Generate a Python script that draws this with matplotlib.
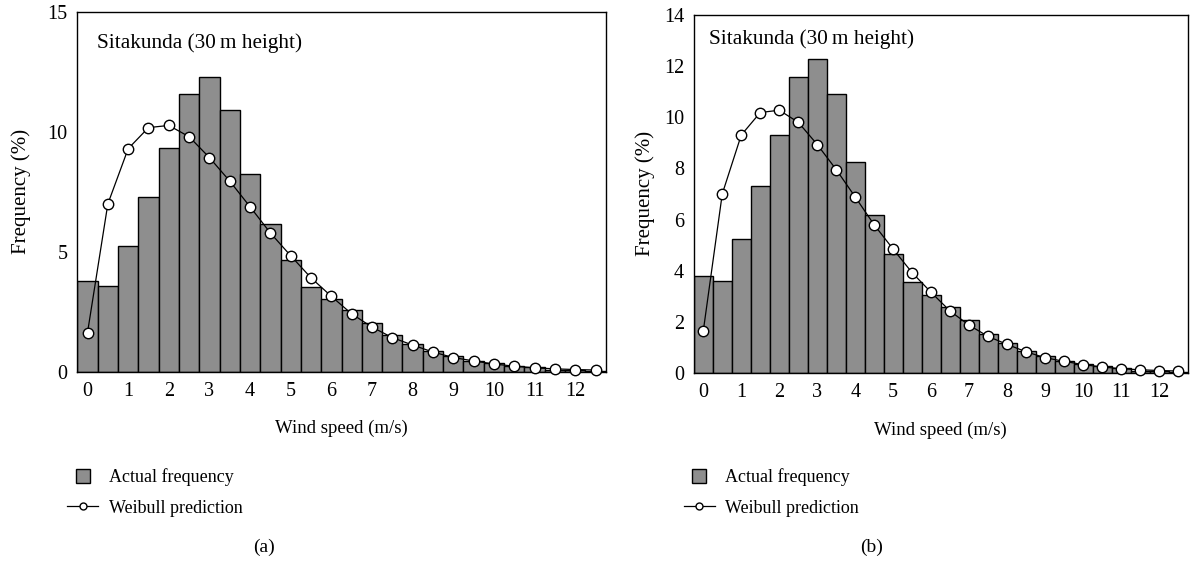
import matplotlib.pyplot as plt
from matplotlib.lines import Line2D

plt.rcParams['font.family'] = ['Liberation Serif', 'DejaVu Serif']

# wind speed bins (m/s)
speed = [0, 0.5, 1, 1.5, 2, 2.5, 3, 3.5, 4, 4.5, 5, 5.5, 6, 6.5, 7, 7.5,
         8, 8.5, 9, 9.5, 10, 10.5, 11, 11.5, 12, 12.5]

# measured frequency (%)
actual = [3.78, 3.6, 5.23, 7.3, 9.32, 11.58, 12.28, 10.9, 8.25, 6.16, 4.66, 3.56,
          3.04, 2.58, 2.06, 1.54, 1.16, 0.86, 0.68, 0.47, 0.37, 0.26, 0.19, 0.1, 0.07, 0.04]

# weibull fit (%)
weibull = [1.64, 7.0, 9.3, 10.18, 10.27, 9.8, 8.93, 7.95, 6.88, 5.79, 4.84, 3.92,
           3.15, 2.42, 1.87, 1.43, 1.12, 0.83, 0.6, 0.46, 0.33, 0.24, 0.17, 0.13, 0.1, 0.08]

xticks = list(range(0, 13))
panels = [
    dict(pos=[0.065, 0.344, 0.444, 0.635], ymax=15, yticks=[0, 5, 10, 15],
         txt=(0.038, 0.913), leg_x=0.043, sub_x=0.222, lab_x=-0.088, sub='(a)'),
    dict(pos=[0.583, 0.342, 0.415, 0.632], ymax=14, yticks=[0, 2, 4, 6, 8, 10, 12, 14],
         txt=(0.03, 0.933), leg_x=0.561, sub_x=0.732, lab_x=-0.078, sub='(b)'),
]

fig = plt.figure(figsize=(11.9, 5.67), dpi=100)

for p in panels:
    ax = fig.add_axes(p['pos'])
    ax.bar(speed, actual, width=0.5, color='#8e8e8e', edgecolor='black',
           linewidth=1.0, zorder=1)
    ax.plot(speed, weibull, color='black', linewidth=0.9, marker='o',
            markersize=7.5, markerfacecolor='white', markeredgecolor='black',
            markeredgewidth=1.0, zorder=3, clip_on=False)
    ax.set_xlim(-0.25, 12.75)
    ax.set_ylim(0, p['ymax'])
    ax.set_xticks(xticks)
    ax.set_yticks(p['yticks'])
    ax.tick_params(length=0, labelsize=14.5, pad=7)
    for s in ax.spines.values():
        s.set_linewidth(1.0)
    ax.set_xlabel('Wind speed (m/s)', fontsize=13.5, labelpad=14)
    ax.set_ylabel('Frequency (%)', fontsize=15)
    ax.yaxis.set_label_coords(p['lab_x'], 0.5)
    ax.text(p['txt'][0], p['txt'][1], 'Sitakunda (30\u2009m height)', transform=ax.transAxes,
            fontsize=15.3, ha='left', va='center')

    handles = [
        Line2D([], [], linestyle='none', marker='s', markersize=9.5,
               markerfacecolor='#8e8e8e', markeredgecolor='black'),
        Line2D([], [], color='black', linewidth=0.9, marker='o', markersize=5,
               markerfacecolor='white', markeredgecolor='black'),
    ]
    fig.legend(handles, ['Actual frequency', 'Weibull prediction'],
               loc='upper left', bbox_to_anchor=(p['leg_x'], 0.203), frameon=False,
               fontsize=13, handlelength=1.7, handletextpad=0.6, labelspacing=0.75)
    fig.text(p['sub_x'], 0.035, p['sub'], fontsize=14, ha='center', va='center')

fig.savefig('out.png', dpi=100)
